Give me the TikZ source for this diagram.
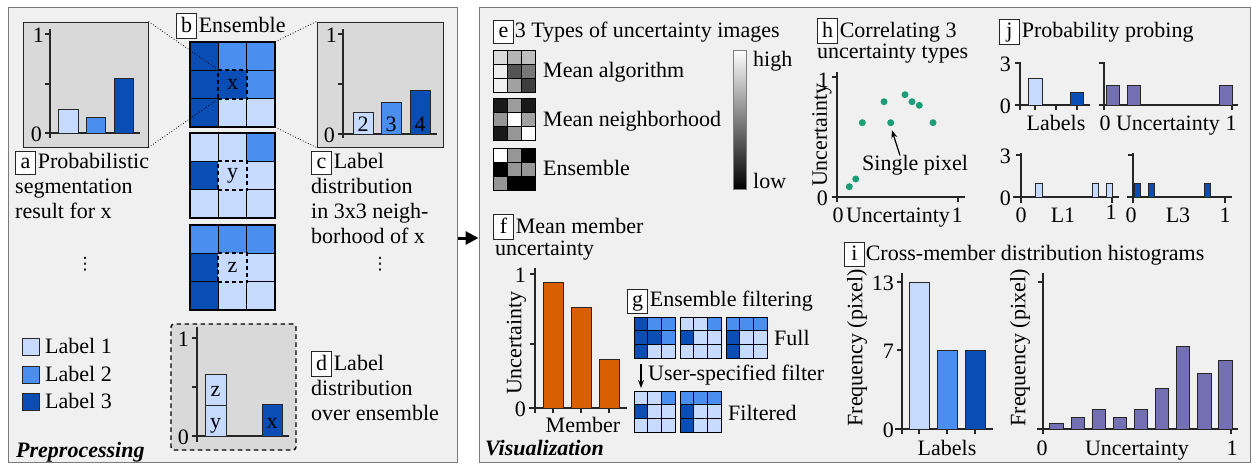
\documentclass[tikz,border=0pt]{standalone}
\usepackage{fontspec}
\setmainfont{Liberation Serif}
\newfontfamily\djv{DejaVu Sans}
\usetikzlibrary{arrows.meta}
\definecolor{Lone}{HTML}{C6DBFF}
\definecolor{Ltwo}{HTML}{4A8FF0}
\definecolor{Lthree}{HTML}{0A4DB5}
\definecolor{panelbg}{HTML}{F0F0F0}
\definecolor{panelline}{HTML}{7A7A7A}
\definecolor{chartbg}{HTML}{D9D9D9}
\definecolor{axiscol}{HTML}{262626}
\definecolor{orng}{HTML}{D95F02}
\definecolor{tealdot}{HTML}{1B9E77}
\definecolor{purp}{HTML}{7570B3}
\newcommand\lbox[1]{{\fboxsep=2.5pt\fboxrule=0.8pt\fcolorbox{black!85}{white}{\rule[-3.5pt]{0pt}{17.5pt}\makebox[14pt]{#1}}}}
\newcommand\cellgrid[5]{%
  \foreach \cc [count=\ii from 0] in {#5} {%
    \pgfmathtruncatemacro\gc{mod(\ii,3)}%
    \pgfmathtruncatemacro\gr{div(\ii,3)}%
    \fill[\cc] ({#1+\gc*#3},{#2+\gr*#3}) rectangle ++(#3,#3);
  }
  \foreach \k in {1,2} {%
    \draw[line width=#4] ({#1+\k*#3},#2) -- ++(0,{3*#3});
    \draw[line width=#4] (#1,{#2+\k*#3}) -- ++({3*#3},0);
  }
  \draw[line width=#4] (#1,#2) rectangle ++({3*#3},{3*#3});
}
\begin{document}
\begin{tikzpicture}[x=1pt,y=-1pt,
  every node/.style={font=\fontsize{22}{25}\selectfont, inner sep=0pt},
  txt/.style={anchor=base west},
  ctr/.style={anchor=base},
  panel/.style={draw=panelline, fill=panelbg, line width=1pt},
  chartbox/.style={draw=axiscol, fill=chartbg, line width=1pt},
  chartd/.style={draw=black, fill=chartbg, line width=1.4pt, dash pattern=on 4.5pt off 3.5pt, rounded corners=3pt},
  axis/.style={draw=axiscol, line width=1.3pt},
  bar/.style={draw=axiscol, line width=1pt},
  dcell/.style={draw=black, line width=1.5pt, dash pattern=on 4pt off 3pt, minimum size=29.4pt},
  legsq/.style={draw=axiscol, line width=0.8pt, minimum size=17pt},
  dot/.style={circle, fill=tealdot, minimum size=7pt},
  zoomline/.style={dotted, line width=0.8pt},
  ylab/.style={anchor=east},
  vdot/.style={font=\djv\fontsize{17}{20}\selectfont}
]
\useasboundingbox (0,0) rectangle (1252,464);
\fill[white] (0,0) rectangle (1252,464);

% panels
\node[panel, minimum width=449pt, minimum height=455pt] (pre) at (232.5,234.5) {};
\node[panel, minimum width=771pt, minimum height=455pt] (vis) at (864.5,234.5) {};
\draw[line width=3pt, -{Triangle[length=13pt,width=13pt]}] ([yshift=-3.5pt]pre.east) -- ([yshift=-3.5pt]vis.west);

% ================= Preprocessing =================
% chart a
\node[chartbox, minimum width=125pt, minimum height=125pt] (ca) at (85.5,84.5) {};
\draw[axis] (50,29) -- (50,138);
\draw[axis] (47,133) -- (140,133);
\foreach \t in {34,84,133} \draw[axis] (45,\t) -- (50,\t);
\node[ylab] (ca1) at (44,35) {1};
\node[ylab] (ca0) at (42,134) {0};
\draw[bar, fill=Lone] (58,133) rectangle (78,109);
\draw[bar, fill=Ltwo] (86,133) rectangle (105,117);
\draw[bar, fill=Lthree] (114,133) rectangle (133,78);

% ensemble grids
\node[txt] (lb) at (176,32) {\lbox{b}\hspace{2pt}Ensemble};
\cellgrid{190}{42}{28.33}{1.3pt}{Lthree,Ltwo,Ltwo,Lthree,Lthree,Ltwo,Lthree,Lone,Lone}
\cellgrid{190}{133}{28.33}{1.3pt}{Lone,Lone,Ltwo,Lthree,Lone,Lone,Lone,Lone,Lone}
\cellgrid{190}{225}{28.33}{1.3pt}{Ltwo,Ltwo,Ltwo,Lthree,Lone,Lone,Lthree,Lone,Lone}
\node[dcell, fill=Lthree] (cx) at (232.5,84.5) {x};
\node[dcell, fill=Lone] (cy) at (232.5,175.5) {y};
\node[dcell, fill=Lone] (cz) at (232.5,267.5) {z};
\node[minimum size=85pt] (g1) at (232.5,84.5) {};

% chart c
\node[chartbox, minimum width=126pt, minimum height=125pt] (cc) at (380,84.5) {};
\draw[axis] (343,29) -- (343,138);
\draw[axis] (340,134) -- (437,134);
\foreach \t in {34,84,134} \draw[axis] (338,\t) -- (343,\t);
\node[ylab] (cc1) at (337,35) {1};
\node[ylab] (cc0) at (335,135) {0};
\draw[bar, fill=Lone] (353,134) rectangle (373,112);
\draw[bar, fill=Ltwo] (381,134) rectangle (401,102);
\draw[bar, fill=Lthree] (410,134) rectangle (430,90);
\node[ctr] (n2) at (363,131) {2};
\node[ctr] (n3) at (391,131) {3};
\node[ctr] (n4) at (420,131) {4};

% zoom lines
\draw[zoomline] (ca.north east) -- (cx.north west);
\draw[zoomline] (ca.south east) -- (cx.south west);
\draw[zoomline] (g1.north east) -- (cc.north west);
\draw[zoomline] (g1.south east) -- (cc.south west);

% labels a, c
\node[txt] (la1) at (15,168) {\lbox{a}\hspace{2pt}Probabilistic};
\node[txt] (la2) at (15,193) {segmentation};
\node[txt] (la3) at (15,218) {result for x};
\node[txt] (lc1) at (311,168) {\lbox{c}\hspace{2pt}Label};
\node[txt] (lc2) at (311,193) {distribution};
\node[txt] (lc3) at (311,218) {in 3x3 neigh-};
\node[txt] (lc4) at (311,243) {borhood of x};
\node[vdot] (dots1) at (85,264) {⋮};
\node[vdot] (dots2) at (380,264) {⋮};

% legend
\foreach \c/\t/\y in {Lone/1/347, Ltwo/2/375, Lthree/3/402} {
  \node[legsq, fill=\c] (sq\t) at (31,\y) {};
  \node[txt] (lt\t) at (45,\y+6) {Label \t};
}

% chart d
\node[chartd, minimum width=125pt, minimum height=126pt] (cd) at (233.5,387) {};
\draw[axis] (197,327) -- (197,442);
\draw[axis] (192,436) -- (289,436);
\foreach \t in {338,387} \draw[axis] (192,\t) -- (197,\t);
\node[ylab] (cd1) at (189,339) {1};
\node[ylab] (cd0) at (189,437) {0};
\draw[bar, fill=Lone] (205,436) rectangle (226,405);
\draw[bar, fill=Lone] (205,405) rectangle (226,374);
\draw[bar, fill=Lthree] (262,436) rectangle (282,404);
\node[ctr] (dy) at (215.5,428) {y};
\node[ctr] (dz) at (215.5,396) {z};
\node[ctr] (dx) at (272,428) {x};
\node[txt] (ld1) at (311,370) {\lbox{d}\hspace{2pt}Label};
\node[txt] (ld2) at (311,395) {distribution};
\node[txt] (ld3) at (311,420) {over ensemble};
\node[txt] (tpre) at (16,457) {\bfseries\itshape Preprocessing};

% ================= Visualization =================
\node[txt] (le) at (493,37) {\lbox{e}\hspace{1pt}3 Types of uncertainty images};
\cellgrid{493}{50}{14}{0.8pt}{black!14,black!29,black!25,black!7,black!67,black!53,black!6,black!37,black!76}
\cellgrid{493}{98}{14}{0.8pt}{black!90,black!39,black!90,black!41,white,black!37,black!90,black!41,white}
\cellgrid{493}{148}{14}{0.8pt}{white,black!41,black,black,black!41,black!41,black!41,black,black}
\node[txt] (tma) at (543,77) {Mean algorithm};
\node[txt] (tmn) at (543,126) {Mean neighborhood};
\node[txt] (tme) at (543,175) {Ensemble};
\shadedraw[top color=white, bottom color=black, draw=black!50, line width=0.5pt] (733,50) rectangle (746,189);
\node[txt] (thigh) at (753,66) {high};
\node[txt] (tlow) at (753,188) {low};

% f
\node[txt] (lf1) at (493,233) {\lbox{f}\hspace{2pt}Mean member};
\node[txt] (lf2) at (495,255) {uncertainty};
\draw[axis] (535,268) -- (535,413);
\draw[axis] (529,408) -- (627,408);
\foreach \t in {274,344} \draw[axis] (530,\t) -- (535,\t);
\foreach \t in {553,581,609} \draw[axis] (\t,408) -- (\t,413);
\node[ylab] (f1) at (526,275) {1};
\node[ylab] (f0) at (526,409) {0};
\draw[bar, fill=orng] (543,408) rectangle (563,282);
\draw[bar, fill=orng] (571,408) rectangle (591,307);
\draw[bar, fill=orng] (599,408) rectangle (619,359);
\node[rotate=90] (fyl) at (516.5,343) {Uncertainty};
\node[ctr] (fxl) at (583,432) {Member};
\node[txt] (tvis) at (485,455) {\bfseries\itshape Visualization};

% g
\node[txt] (lg) at (627,306) {\lbox{g}\hspace{2pt}Ensemble filtering};
\cellgrid{634}{317}{13.8}{0.8pt}{Lthree,Ltwo,Ltwo,Lthree,Lthree,Ltwo,Lthree,Lone,Lone}
\cellgrid{680}{317}{13.8}{0.8pt}{Lone,Lone,Ltwo,Lthree,Lone,Lone,Lone,Lone,Lone}
\cellgrid{726}{317}{13.8}{0.8pt}{Ltwo,Ltwo,Ltwo,Lthree,Lone,Lone,Lthree,Lone,Lone}
\node[txt] (tfull) at (774,345) {Full};
\coordinate (fa1) at (641,364);
\coordinate (fa2) at (641,388);
\draw[line width=1.2pt, -{Stealth[length=8pt,width=6pt]}] (fa1) -- (fa2);
\node[txt] (tusf) at (648,380) {User-specified filter};
\cellgrid{634}{391}{13.8}{0.8pt}{Lone,Lone,Ltwo,Lthree,Lone,Lone,Lone,Lone,Lone}
\cellgrid{680}{391}{13.8}{0.8pt}{Ltwo,Ltwo,Ltwo,Lthree,Lone,Lone,Lthree,Lone,Lone}
\node[txt] (tfilt) at (728,420) {Filtered};

% h
\node[txt] (lh1) at (817,37) {\lbox{h}\hspace{2pt}Correlating 3};
\node[txt] (lh2) at (817,58) {uncertainty types};
\draw[axis] (837,72) -- (837,202);
\draw[axis] (832,197) -- (965,197);
\draw[axis] (832,77) -- (837,77);
\draw[axis] (958,197) -- (958,202);
\node[ylab] (h1) at (829,80) {1};
\node[ylab] (h0) at (828,198) {0};
\node[ctr] (hx0) at (838,222) {0};
\node[ctr] (hxl) at (898,222) {Uncertainty};
\node[ctr] (hx1) at (957,222) {1};
\node[rotate=90] (hyl) at (822,135) {Uncertainty};
\node[dot] (p1) at (849.3,186.7) {};
\node[dot] (p2) at (855.7,179) {};
\node[dot] (p3) at (862.3,122.7) {};
\node[dot] (p4) at (884,101.7) {};
\node[dot] (p5) at (890.7,122.7) {};
\node[dot] (p6) at (905,94.7) {};
\node[dot] (p7) at (912,101.7) {};
\node[dot] (p8) at (919.3,105.3) {};
\node[dot] (p9) at (933,122.7) {};
\node[ctr] (tsp) at (915,170) {Single pixel};
\draw[line width=1.2pt, -{Stealth[length=8pt,width=6pt]}, shorten >=4pt] ([xshift=-15pt,yshift=-1pt]tsp.north) -- (p5.south);

% j
\node[txt] (lj) at (999,37) {\lbox{j}\hspace{2pt}Probability probing};
% j1
\draw[axis] (1020,62) -- (1020,110);
\draw[axis] (1015,63) -- (1020,63);
\draw[axis] (1015,105) -- (1090,105);
\foreach \t in {1035,1056,1077} \draw[axis] (\t,105) -- (\t,110);
\draw[bar, fill=Lone] (1028,105) rectangle (1042,78);
\draw[bar, fill=Lthree] (1070,105) rectangle (1083,92);
\node[ylab] (j13) at (1011,64) {3};
\node[ylab] (j10) at (1011,106) {0};
\node[ctr] (j1l) at (1056,130) {Labels};
% j2
\draw[axis] (1104,62) -- (1104,110);
\draw[axis] (1099,63) -- (1104,63);
\draw[axis] (1099,105) -- (1238,105);
\draw[axis] (1232,105) -- (1232,110);
\draw[bar, fill=purp] (1106,105) rectangle (1119,85);
\draw[bar, fill=purp] (1127,105) rectangle (1140,85);
\draw[bar, fill=purp] (1219,105) rectangle (1232,85);
\node[ctr] (j20) at (1105,130) {0};
\node[ctr] (j2l) at (1168,130) {Uncertainty};
\node[ctr] (j21) at (1231,130) {1};
% j3
\draw[axis] (1021,153) -- (1021,203);
\draw[axis] (1016,155) -- (1021,155);
\draw[axis] (1013,197) -- (1119,197);
\draw[axis] (1112,197) -- (1112,203);
\draw[bar, fill=Lone] (1035,197) rectangle (1042,183);
\draw[bar, fill=Lone] (1092,197) rectangle (1098,183);
\draw[bar, fill=Lone] (1106,197) rectangle (1112,183);
\node[ylab] (j33) at (1011,156) {3};
\node[ylab] (j30) at (1011,198) {0};
\node[ctr] (j3a) at (1021,222) {0};
\node[ctr] (j3l) at (1063,222) {L1};
\node[ctr] (j3b) at (1111,219) {1};
% j4
\draw[axis] (1133,153) -- (1133,203);
\draw[axis] (1128,155) -- (1133,155);
\draw[axis] (1127,197) -- (1232,197);
\draw[axis] (1225,197) -- (1225,203);
\draw[bar, fill=Lthree] (1134,197) rectangle (1140,183);
\draw[bar, fill=Lthree] (1148,197) rectangle (1154,183);
\draw[bar, fill=Lthree] (1204,197) rectangle (1210,183);
\node[ctr] (j4a) at (1131,222) {0};
\node[ctr] (j4l) at (1178,222) {L3};
\node[ctr] (j4b) at (1225,222) {1};

% i
\node[txt] (li) at (844,260) {\lbox{i}\hspace{1pt}Cross-member distribution histograms};
% i1
\draw[axis] (902,273) -- (902,434);
\draw[axis] (895,429) -- (993,429);
\foreach \t in {282,350} \draw[axis] (897,\t) -- (902,\t);
\foreach \t in {919,947,975} \draw[axis] (\t,429) -- (\t,434);
\draw[bar, fill=Lone] (909,429) rectangle (929,282);
\draw[bar, fill=Ltwo] (937,429) rectangle (957,350);
\draw[bar, fill=Lthree] (965,429) rectangle (985,350);
\node[ylab] (i13) at (894,283) {13};
\node[ylab] (i17) at (894,351) {7};
\node[ylab] (i10) at (894,430) {0};
\node[ctr] (i1l) at (947,455) {Labels};
\node[rotate=90] (i1y) at (857,348) {Frequency (pixel)};
% i2
\draw[axis] (1043,273) -- (1043,434);
\draw[axis] (1037,429) -- (1238,429);
\draw[axis] (1038,282) -- (1043,282);
\draw[axis] (1231,429) -- (1231,434);
\foreach \a/\b/\h in {1049/1063/423, 1071/1084/417, 1092/1105/409, 1113/1126/417, 1134/1147/409, 1155/1168/388, 1176/1189/346, 1197/1211/373, 1218/1232/360}
  \draw[bar, fill=purp] (\a,429) rectangle (\b,\h);
\node[ctr] (i20) at (1042,455) {0};
\node[ctr] (i2l) at (1137,455) {Uncertainty};
\node[ctr] (i21) at (1232,455) {1};
\node[rotate=90] (i2y) at (1020,348) {Frequency (pixel)};
\end{tikzpicture}
\end{document}
